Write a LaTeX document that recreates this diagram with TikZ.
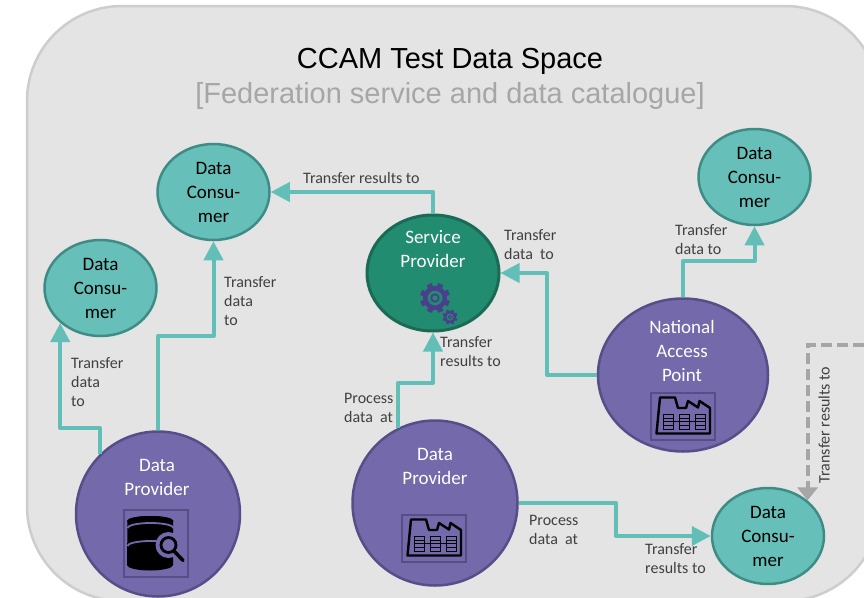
\documentclass[tikz,border=0pt]{standalone}
\usepackage{fontspec}
\setmainfont{Carlito}
\newfontfamily\titlefont{Liberation Sans}
\usetikzlibrary{arrows.meta,shapes.geometric}
\definecolor{panelfill}{HTML}{E4E4E4}
\definecolor{panelline}{HTML}{CDCDCD}
\definecolor{tealfill}{HTML}{66BFB8}
\definecolor{tealline}{HTML}{3F8C86}
\definecolor{greenfill}{HTML}{228C70}
\definecolor{greenline}{HTML}{1A6A55}
\definecolor{purplefill}{HTML}{7369AB}
\definecolor{purpleline}{HTML}{574E88}
\definecolor{linkteal}{HTML}{62BFB8}
\definecolor{linkgray}{HTML}{A6A6A6}
\definecolor{labelgray}{HTML}{404040}
\definecolor{gearpurple}{HTML}{4A3F8C}
\tikzset{
	consumer/.style={ellipse, draw=tealline, fill=tealfill, line width=2.5pt, minimum width=112pt, minimum height=96pt, inner sep=0pt, align=center, font=\fontsize{19}{24}\selectfont},
	provider/.style={ellipse, draw=purpleline, fill=purplefill, line width=2.5pt, inner sep=0pt},
	service/.style={ellipse, draw=greenline, fill=greenfill, line width=3pt, inner sep=0pt},
	nodetext/.style={white, align=center, font=\fontsize{19}{24}\selectfont},
	lbl/.style={labelgray, align=left, anchor=west, inner sep=0pt, font=\fontsize{16}{19}\selectfont},
	link/.style={draw=linkteal, line width=4pt, line join=round, -{Triangle[length=19pt,width=19pt]}},
	dashlink/.style={draw=linkgray, line width=4pt, dash pattern=on 11pt off 5pt, -{Triangle[length=13pt,width=20pt]}},
	iconbox/.style={draw=purpleline, line width=2.5pt}
}
% factory icon, (#1,#2) is the corner of its box
\newcommand{\factoryicon}[2]{
	\begin{scope}[shift={(#1,#2)}]
		\draw [iconbox] (0,0) rectangle (64,47);
		\draw [black, line width=2.4pt, line join=round] (9,4.5) -- (24,4.5) -- (27,15) -- (35,15) -- (37,8) -- (47,14.5) -- (48.5,8) -- (59,15) -- (59,40.5) -- (5.5,40.5) -- cycle;
		\foreach \X in {12.5,28.5,44} {
			\draw [black, line width=0.9pt] (\X,21.5) rectangle ++(10,14.5);
			\foreach \Y in {25,28.5,32} \draw [black, line width=0.6pt] (\X,\Y) -- ++(10,0);
		}
		\draw [black, line width=0.8pt] (22.5,28.5) -- (28.5,28.5) (38.5,28.5) -- (44,28.5);
	\end{scope}
}
% gear icon, centre and radius
\newcommand{\gearicon}[3]{
	\foreach \A in {0,45,...,315} \draw [gearpurple, line width=0.36*#3 pt] (#1,#2) ++(\A+22:0.7*#3) -- ++(\A+22:0.3*#3);
	\draw [gearpurple, line width=0.3*#3 pt] (#1,#2) circle (0.65*#3);
	\draw [gearpurple, line width=0.12*#3 pt] (#1,#2) circle (0.25*#3);
}
\begin{document}
\begin{tikzpicture}[x=1pt,y=-1pt]
	\useasboundingbox (0,0) rectangle (864,597);
	\clip (0,0) rectangle (864,597);
	% panel and title
	\draw [draw=panelline, fill=panelfill, line width=2.5pt, rounded corners=95pt] (27,6) rectangle (880,601);
	\node (title) at (450,61) {\titlefont\fontsize{29}{33}\selectfont CCAM Test Data Space};
	\node [text=linkgray] (subtitle) at (450,96) {\titlefont\fontsize{29}{33}\selectfont [Federation service and data catalogue]};
	% nodes
	\node [consumer] (cons1) at (100.5,288) {Data\\Consu-\\mer};
	\node [consumer] (cons2) at (213.5,192) {Data\\Consu-\\mer};
	\node [consumer] (cons3) at (754.5,177) {Data\\Consu-\\mer};
	\node [consumer] (cons4) at (768,536) {Data\\Consu-\\mer};
	\node [service, minimum width=132pt, minimum height=116pt] (serv) at (433,273) {};
	\node [provider, minimum width=164pt, minimum height=165pt] (prov1) at (158,514) {};
	\node [provider, minimum width=165pt, minimum height=165pt] (prov2) at (435,503) {};
	\node [provider, minimum width=170pt, minimum height=153pt] (nap) at (683,375) {};
	\node [nodetext] (servtext) at (433,249) {Service\\Provider};
	\node [nodetext] (prov1text) at (157,477) {Data\\Provider};
	\node [nodetext] (prov2text) at (435,466) {Data\\Provider};
	\node [nodetext] (naptext) at (682,351) {National\\Access\\Point};
	% icons
	\factoryicon{402}{515}
	\factoryicon{651}{393}
	\begin{scope}[shift={(124,510)}]
		\draw [iconbox] (0,0) rectangle (64,67);
		\fill [black] (3.5,11) arc [x radius=23, y radius=5, start angle=180, end angle=360] -- (49,11) -- (49,55) arc [x radius=23, y radius=5.5, start angle=0, end angle=180] -- cycle;
		\fill [black] (26,11) ellipse [x radius=23, y radius=5];
		\foreach \Y in {18,36} \draw [purplefill, line width=1.8pt] (3.5,\Y) arc [x radius=23, y radius=5, start angle=180, end angle=360];
		\fill [purplefill] (44.5,35) circle (13);
		\draw [black, line width=2.8pt, fill=purplefill] (44.5,35) circle (7.5);
		\draw [black, line width=3.5pt, line cap=round] (50,41) -- (59,50.5);
	\end{scope}
	\gearicon{435}{298}{15}
	\gearicon{450}{317}{7.5}
	% connectors
	\coordinate (dashend) at (864,345);
	\draw [link] (prov1.134) -- ++(0,-26) -| (cons1.221);
	\draw [link] (prov1.north) -- ++(0,-94) -| (cons2.south);
	\draw [link] (serv.north) |- (cons2.east);
	\draw [link] (prov2.116) -- ++(0,-45) -| (serv.south);
	\draw [link] (nap.west) -- ++(-50,0) |- (serv.east);
	\draw [link] (nap.north) -- ++(0,-36) -| (cons3.south);
	\draw [link] (prov2.east) -- ++(97,0) |- (cons4.west);
	\draw [dashlink] (dashend) -| (cons4.42);
	% labels
	\node [lbl] (lab1) at (71,382) {Transfer\\data\\to};
	\node [lbl] (lab2) at (224,301) {Transfer\\data\\to};
	\node [lbl] (lab3) at (303,178) {Transfer results to};
	\node [lbl] (lab4) at (504,245) {Transfer\\data\ \ to};
	\node [lbl] (lab5) at (440,352) {Transfer\\results to};
	\node [lbl] (lab6) at (344,408) {Process\\data\ \ at};
	\node [lbl] (lab7) at (675,240) {Transfer\\data to};
	\node [lbl] (lab8) at (529,530) {Process\\data\ \ at};
	\node [lbl] (lab9) at (645,559) {Transfer\\results to};
	\node [lbl, anchor=center, rotate=90] (lab10) at (824,425) {Transfer results to};
\end{tikzpicture}
\end{document}
